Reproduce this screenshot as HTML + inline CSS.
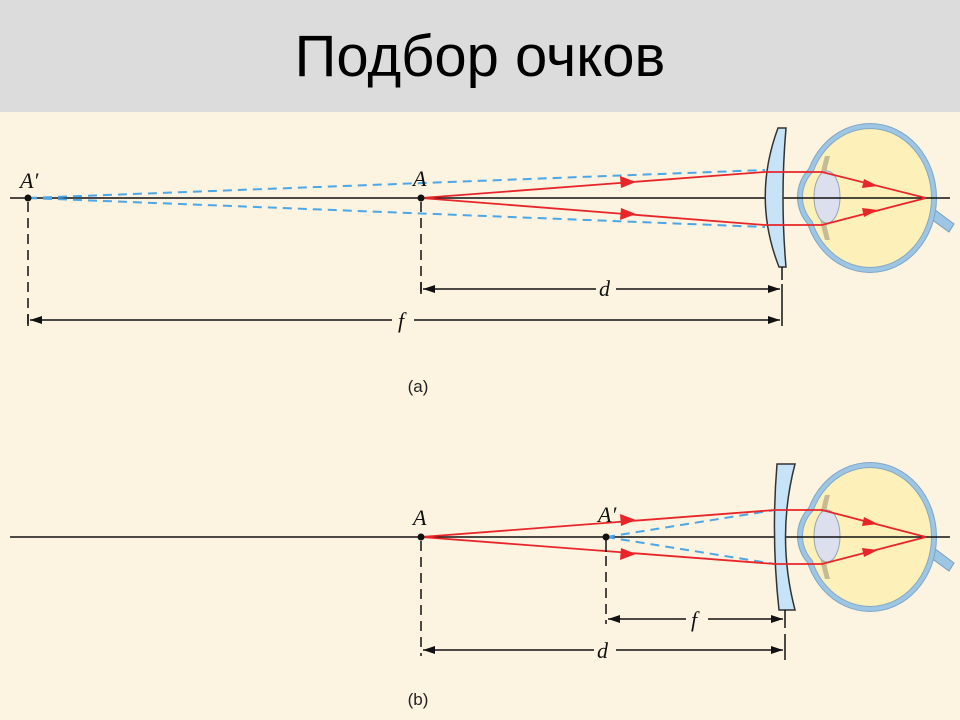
<!DOCTYPE html>
<html><head><meta charset="utf-8"><style>
html,body{margin:0;padding:0;width:960px;height:720px;overflow:hidden;background:#fdf3e1;}
svg{display:block;}
</style></head><body>
<svg width="960" height="720" xmlns="http://www.w3.org/2000/svg">
<defs>
<marker id="ar" markerWidth="12" markerHeight="8" refX="12" refY="4" orient="auto" markerUnits="userSpaceOnUse"><path d="M0,0 L12,4 L0,8 Z" fill="#111"/></marker>
<marker id="al" markerWidth="12" markerHeight="8" refX="0" refY="4" orient="auto" markerUnits="userSpaceOnUse"><path d="M12,0 L0,4 L12,8 Z" fill="#111"/></marker>
<g id="eye">
  <path d="M930,8 L954,26 L949,34 L927,18 Z" fill="#9cc6e4" stroke="#7a9fbd" stroke-width="1"/>
  <ellipse cx="870" cy="0" rx="67" ry="75" fill="#7fa6c6"/>
  <circle cx="838" cy="-1" r="41" fill="#7fa6c6"/>
  <ellipse cx="870" cy="0" rx="66" ry="74" fill="#9cc6e4"/>
  <circle cx="838" cy="-1" r="40" fill="#9cc6e4"/>
  <ellipse cx="870" cy="0" rx="62" ry="70" fill="#86a8c4"/>
  <circle cx="838" cy="-1" r="36" fill="#86a8c4"/>
  <ellipse cx="870" cy="0" rx="61" ry="69" fill="#fdf0b8"/>
  <circle cx="838" cy="-1" r="35" fill="#fdf0b8"/>
  <path d="M825,-42 Q812,0 825,42 L830,42 Q818,0 830,-42Z" fill="#b8ae8e" opacity="0.8"/>
  <ellipse cx="827" cy="-1" rx="13" ry="26" fill="#dcdfee" stroke="#9aa2b5" stroke-width="1"/>
</g>
</defs>
<rect x="0" y="0" width="960" height="112" fill="#dcdcdc"/>
<text x="480" y="76" text-anchor="middle" font-family="Liberation Sans, sans-serif" font-size="58" fill="#000">Подбор очков</text>

<!-- Panel a -->
<use href="#eye" y="198"/>
<line x1="10" y1="198" x2="950" y2="198" stroke="#111" stroke-width="1.5"/>
<path d="M778,128 L786,128 Q780,198 786,267 L779,267 Q752,198 778,128 Z" fill="#c6e3f7" stroke="#333" stroke-width="1.5"/>
<line x1="782" y1="267" x2="782" y2="280" stroke="#111" stroke-width="1.5"/>
<g stroke="#4da6e6" stroke-width="2" stroke-dasharray="9,6" fill="none">
<line x1="28" y1="198" x2="765" y2="170"/>
<line x1="28" y1="198" x2="765" y2="227"/>
</g>
<g stroke="#e8262a" stroke-width="1.8" fill="none">
<polyline points="421,198 765,172 822,172 926,198"/>
<polyline points="421,198 765,225 822,225 926,198"/>
</g>
<g fill="#e8262a">
<path d="M636,182 L620,176 L621,188 Z"/>
<path d="M636,214 L621,208 L620,220 Z"/>
<path d="M878,186 L864,179 L862,188 Z"/>
<path d="M878,210 L862,208 L864,217 Z"/>
</g>
<circle cx="28" cy="198" r="3.5" fill="#111"/>
<circle cx="421" cy="198" r="3.5" fill="#111"/>
<g stroke="#111" stroke-width="1.5" stroke-dasharray="10,6">
<line x1="28" y1="202" x2="28" y2="326"/>
<line x1="421" y1="202" x2="421" y2="294"/>
</g>
<line x1="421" y1="282" x2="421" y2="294" stroke="#111" stroke-width="1.5"/>
<line x1="28" y1="314" x2="28" y2="326" stroke="#111" stroke-width="1.5"/>
<line x1="782" y1="284" x2="782" y2="326" stroke="#111" stroke-width="1.5"/>
<line x1="423" y1="289" x2="596" y2="289" stroke="#111" stroke-width="1.5" marker-start="url(#al)"/>
<line x1="616" y1="289" x2="780" y2="289" stroke="#111" stroke-width="1.5" marker-end="url(#ar)"/>
<line x1="30" y1="320" x2="392" y2="320" stroke="#111" stroke-width="1.5" marker-start="url(#al)"/>
<line x1="414" y1="320" x2="780" y2="320" stroke="#111" stroke-width="1.5" marker-end="url(#ar)"/>
<g font-family="Liberation Serif, serif" font-style="italic" font-size="22" fill="#111">
<text x="20" y="188">A′</text>
<text x="413" y="186">A</text>
<text x="599" y="296">d</text>
<text x="398" y="328">f</text>
</g>
<text x="418" y="392" text-anchor="middle" font-family="Liberation Sans, sans-serif" font-size="17" fill="#222">(a)</text>

<!-- Panel b -->
<use href="#eye" y="537"/>
<line x1="10" y1="537" x2="950" y2="537" stroke="#111" stroke-width="1.5"/>
<path d="M777,464 L795,464 Q776,537 795,610 L779,610 Q771,537 777,464 Z" fill="#c6e3f7" stroke="#333" stroke-width="1.5"/>
<g stroke="#4da6e6" stroke-width="2" stroke-dasharray="9,6" fill="none">
<line x1="606" y1="537" x2="775" y2="510"/>
<line x1="606" y1="537" x2="775" y2="564"/>
</g>
<g stroke="#e8262a" stroke-width="1.8" fill="none">
<polyline points="421,537 775,510 822,510 926,537"/>
<polyline points="421,537 775,564 822,564 926,537"/>
</g>
<g fill="#e8262a">
<path d="M636,520 L620,514 L621,526 Z"/>
<path d="M636,554 L621,548 L620,560 Z"/>
<path d="M878,524 L864,517 L862,526 Z"/>
<path d="M878,550 L862,548 L864,557 Z"/>
</g>
<circle cx="421" cy="537" r="3.5" fill="#111"/>
<circle cx="606" cy="537" r="3.5" fill="#111"/>
<line x1="606" y1="537" x2="606" y2="552" stroke="#111" stroke-width="1.5"/>
<g stroke="#111" stroke-width="1.5" stroke-dasharray="10,6">
<line x1="606" y1="556" x2="606" y2="624"/>
<line x1="421" y1="541" x2="421" y2="656"/>
</g>
<line x1="785" y1="610" x2="785" y2="628" stroke="#111" stroke-width="1.5"/>
<line x1="785" y1="634" x2="785" y2="660" stroke="#111" stroke-width="1.5"/>
<line x1="608" y1="619" x2="686" y2="619" stroke="#111" stroke-width="1.5" marker-start="url(#al)"/>
<line x1="708" y1="619" x2="783" y2="619" stroke="#111" stroke-width="1.5" marker-end="url(#ar)"/>
<line x1="423" y1="650" x2="594" y2="650" stroke="#111" stroke-width="1.5" marker-start="url(#al)"/>
<line x1="616" y1="650" x2="783" y2="650" stroke="#111" stroke-width="1.5" marker-end="url(#ar)"/>
<g font-family="Liberation Serif, serif" font-style="italic" font-size="22" fill="#111">
<text x="413" y="525">A</text>
<text x="598" y="522">A′</text>
<text x="691" y="627">f</text>
<text x="597" y="658">d</text>
</g>
<text x="418" y="705" text-anchor="middle" font-family="Liberation Sans, sans-serif" font-size="17" fill="#222">(b)</text>
</svg>
</body></html>
